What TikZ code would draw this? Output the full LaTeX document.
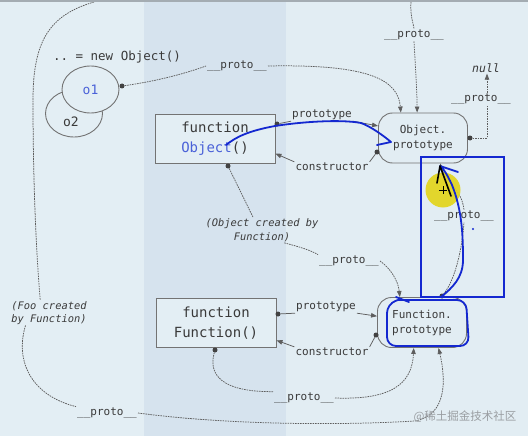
\documentclass[tikz,border=0pt]{standalone}
\usepackage{fontspec}
\setmonofont{DejaVu Sans Mono}
\newfontfamily\cjkfont{Noto Sans CJK SC}
\usetikzlibrary{arrows.meta,shapes.geometric}
\definecolor{bgL}{HTML}{E3EEF4}
\definecolor{bgR}{HTML}{E2EDF3}
\definecolor{band}{HTML}{D6E3EE}
\definecolor{edgeC}{HTML}{A4ACB2}
\definecolor{lineC}{HTML}{5E5E5E}
\definecolor{boxC}{HTML}{737373}
\definecolor{txtC}{HTML}{3A3A3A}
\definecolor{objBlue}{HTML}{4A61D8}
\definecolor{inkBlue}{HTML}{1428D0}
\definecolor{hiY}{HTML}{E3D51C}
\definecolor{wmC}{HTML}{9A9EA2}
\begin{document}
\begin{tikzpicture}[x=1pt,y=-1pt,
  dl/.style={draw=lineC, line width=0.75pt, dash pattern=on 1.6pt off 0.9pt},
  sl/.style={draw=lineC, line width=0.75pt},
  tip/.style={-{Triangle[length=6pt,width=4.5pt]}},
  dotn/.style={circle, fill=lineC!70!black, inner sep=0pt, minimum size=5pt},
  lab/.style={font=\ttfamily\fontsize{11}{12}\selectfont, text=txtC, inner sep=1pt},
  ilab/.style={font=\ttfamily\itshape\fontsize{10.4}{12.5}\selectfont, text=txtC, inner sep=1pt, align=center},
  fnbox/.style={draw=boxC, line width=0.9pt, fill=bgL, minimum width=120pt, minimum height=49pt, align=center, font=\ttfamily\fontsize{14}{20}\selectfont, text=txtC},
  pbox/.style={draw=boxC, line width=0.9pt, rounded corners=14pt, fill=bgR, minimum width=89pt, minimum height=50pt, align=center, font=\ttfamily\fontsize{11}{15.5}\selectfont, text=txtC},
  oval/.style={ellipse, draw=boxC, line width=0.9pt, fill=bgL, minimum width=57pt, minimum height=47pt, inner sep=0pt, font=\ttfamily\fontsize{13}{15}\selectfont, text=txtC},
  ink/.style={draw=inkBlue, line width=1.8pt, line cap=round, line join=round}
]
\useasboundingbox (0,0) rectangle (528,436);
% background
\fill[bgL] (0,0) rectangle (144,436);
\fill[band] (144,0) rectangle (286,436);
\fill[bgR] (286,0) rectangle (528,436);

% texts and boxes
\node[lab, font=\ttfamily\fontsize{12.5}{14}\selectfont] (newobj) at (117,57) {.. = new Object()};
\node[oval] (o2) at (74,113.5) {};
\node[oval] (o1) at (90.5,89.5) {\textcolor{objBlue}{o1}};
\node[lab, font=\ttfamily\fontsize{13}{15}\selectfont] (o2t) at (71,122) {o2};

\node[fnbox] (objfn) at (215,138.5) {function\\\textcolor{objBlue}{Object}()};
\node[fnbox] (fnfn) at (216,323) {function\\Function()};
\node[pbox] (objp) at (423,138) {Object.\\prototype};
\node[pbox, font=\ttfamily\fontsize{11}{15}\selectfont] (fnp) at (422,322.5) {Function.\\prototype};

% dots
\node[dotn] (o1d) at (122,86) {};
\node[dotn] (ofd) at (228,166) {};
\node[dotn] (ofr) at (277,124) {};
\node[dotn] (opl) at (377,152) {};
\node[dotn] (opr) at (470,138) {};
\node[dotn] (ffr) at (278,314) {};
\node[dotn] (fpl) at (376,335) {};
\node[dotn] (ffd) at (215,350) {};
\node[dotn] (fpt) at (442,296) {};

% labels
\node[lab] (p1) at (237,66) {\_\_proto\_\_};
\node[lab] (p2) at (414,35) {\_\_proto\_\_};
\node[lab] (p3) at (481,99) {\_\_proto\_\_};
\node[lab] (p4) at (464,216) {\_\_proto\_\_};
\node[lab] (p5) at (349,261) {\_\_proto\_\_};
\node[lab] (p6) at (304,398) {\_\_proto\_\_};
\node[lab] (p7) at (107,413) {\_\_proto\_\_};
\node[lab] (pt1) at (322,115) {prototype};
\node[lab] (pt2) at (326,307) {prototype};
\node[lab] (c1) at (332,167) {constructor};
\node[lab] (c2) at (332,352) {constructor};
\node[ilab, font=\ttfamily\itshape\fontsize{10.4}{14}\selectfont] (objcr) at (262,230) {(Object created by\\Function)};
\node[ilab] (foocr) at (49,313) {(Foo created\\by Function)};
\node[lab, font=\ttfamily\itshape\fontsize{11.5}{13}\selectfont] (null) at (486,68) {null};

\coordinate (topL) at (94,2);
\coordinate (topR) at (411,2);

% dashed __proto__ connectors
\draw[dl] (o1d) .. controls (165,80) and (195,70) .. (p1.west);
\draw[dl,tip] (p1.east) .. controls (370,64) and (398,80) .. (objp.131);
\draw[dl] (topR) .. controls (410,15) and (413,22) .. (p2.north);
\draw[dl,tip] (p2.south) .. controls (415,60) and (417,90) .. (objp.103);
\draw[dl] (topL) .. controls (50,15) and (33,40) .. (33,100) .. controls (33,180) and (36,250) .. (foocr.125);
\draw[dl] (foocr.208) .. controls (15,360) and (30,395) .. (p7.north west);
\draw[dl,tip] (p7.east) .. controls (220,424) and (330,426) .. (415,421) .. controls (447,415) and (446,380) .. (fnp.-57);
\draw[dl] (ffd) .. controls (208,375) and (222,392) .. (p6.north west);
\draw[dl,tip] (p6.east) .. controls (390,400) and (412,385) .. (fnp.-108);
\draw[dl] (ofd) -- (objcr.125);
\draw[dl] (objcr.-30) .. controls (300,247) and (310,250) .. (p5.north west);
\draw[dl,tip] (p5.east) .. controls (390,268) and (398,280) .. (fnp.131);
\draw[dl] (opr) -| ([xshift=6pt]p3.south);
\draw[dl,tip] ([xshift=6pt]p3.north) -- ([xshift=1pt]null.south);
\draw[dl] (fpt) .. controls (455,280) and (462,250) .. (p4.south);
\draw[dl,tip] (p4.north) .. controls (462,190) and (445,180) .. (objp.-56);

% prototype / constructor
\draw[sl] (ofr) -- (pt1.south west);
\draw[sl,tip] (pt1.south east) -- (objp.165);
\draw[sl] (ffr) -- (pt2.south west);
\draw[sl,tip] (pt2.south east) -- (fnp.172);
\draw[sl] (opl) -- (c1.north east);
\draw[sl,tip] (c1.north west) -- (objfn.-14);
\draw[sl] (fpl) -- (c2.north east);
\draw[sl,tip] (c2.north west) -- (fnfn.-16);

% top border of the screenshot
\fill[edgeC] (0,0) rectangle (528,2.5);

% hand-drawn annotations
\draw[ink] (226,145) .. controls (236,137) and (248,131) .. (275,126) .. controls (300,122) and (340,119) .. (361,123) .. controls (370,126) and (384,136) .. (391,142) -- (377,145);
\draw[inkBlue, line width=1.8pt] (421,157) rectangle (504,297);
\draw[ink, rounded corners=9pt] (398,300) -- (466,300) -- (469,346) -- (387,346) -- (387,304) -- (398,300);
\draw[ink] (396,297) -- (409,302);
\fill[hiY, opacity=0.92] (443,190) circle (17.5);
\draw[black, line width=0.8pt] (439,190) -- (447,190) (443,186) -- (443,194);
\draw[ink] (441,297) .. controls (452,288) and (463,278) .. (463,260) .. controls (463,235) and (462,210) .. (452,185) .. controls (447,174) and (443,168) .. (440,166) -- (458,172);
\draw[black, line width=1.6pt, line cap=round, line join=round] (437,183) -- (440,166) -- (451,196);
\fill[inkBlue] (473,229) circle (1.2);

% watermark
\node[font=\cjkfont\fontsize{11.5}{13}\selectfont, text=wmC, inner sep=0pt] (wm) at (465,417) {@稀土掘金技术社区};
\end{tikzpicture}
\end{document}
